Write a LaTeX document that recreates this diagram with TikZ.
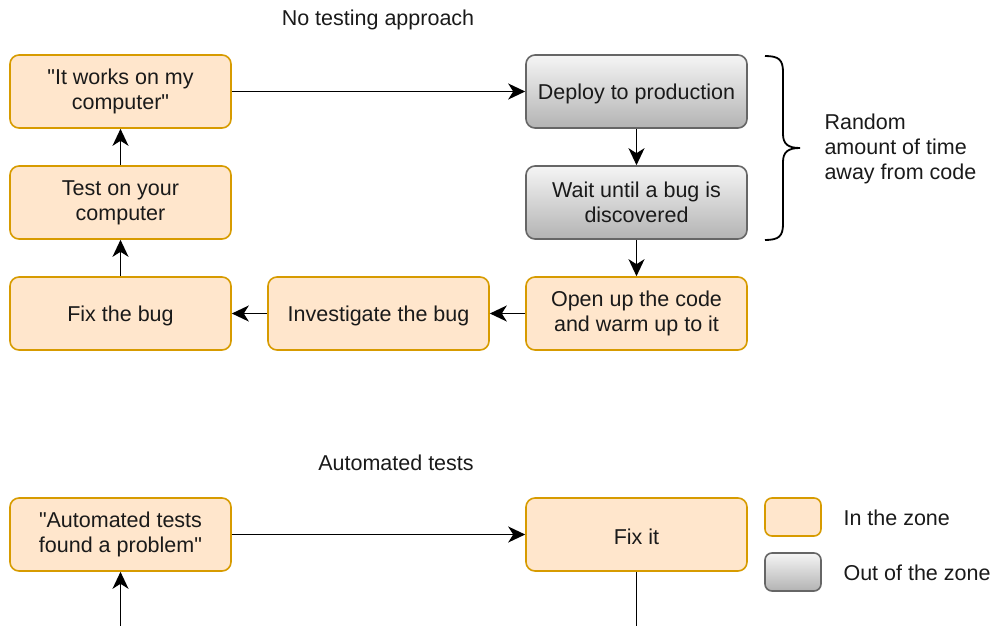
\documentclass[tikz,border=0pt]{standalone}
\usepackage{fontspec}
\setmainfont{Liberation Sans}[Ligatures=TeXOff]
\usetikzlibrary{arrows.meta}
\definecolor{zonefill}{HTML}{FFE6CC}
\definecolor{zoneline}{HTML}{D79B00}
\definecolor{outline}{HTML}{666666}
\definecolor{outtop}{HTML}{F5F5F5}
\definecolor{outbot}{HTML}{B3B3B3}
\definecolor{ink}{HTML}{1A1A1A}
\begin{document}
\begin{tikzpicture}[x=1pt,y=-1pt,
  every node/.style={font=\fontsize{21.5}{25}\selectfont, text=ink},
  card/.style={rounded corners=9pt, line width=1.6pt, minimum width=221pt,
    minimum height=73pt, inner sep=0pt, align=center,
    execute at begin node={\rule{0pt}{21pt}}},
  inzone/.style={card, draw=zoneline, fill=zonefill},
  outzone/.style={card, draw=outline, top color=outtop, bottom color=outbot},
  swatch/.style={rounded corners=7pt, line width=1.6pt, minimum width=56pt,
    minimum height=38pt, inner sep=0pt},
  flow/.style={line width=1.8pt, -{Stealth[length=17pt,width=16pt,inset=5pt]}},
  plain/.style={line width=1.8pt}
]
\useasboundingbox (0,0) rectangle (1001,626);

% upper loop
\node (t1) at (378,20) {No testing approach};
\node[inzone] (works) at (120.5,91.5) {"It works on my\\computer"};
\node[outzone] (deploy) at (636.5,91.5) {Deploy to production};
\node[outzone] (wait) at (636.5,202.5) {Wait until a bug is\\discovered};
\node[inzone] (test) at (120.5,202.5) {Test on your\\computer};
\node[inzone] (fixbug) at (120.5,313.5) {Fix the bug};
\node[inzone] (invest) at (378.5,313.5) {Investigate the bug};
\node[inzone] (open) at (636.5,313.5) {Open up the code\\and warm up to it};

\draw[flow] (works) -- (deploy);
\draw[flow] (deploy) -- (wait);
\draw[flow] (wait) -- (open);
\draw[flow] (open) -- (invest);
\draw[flow] (invest) -- (fixbug);
\draw[flow] (fixbug) -- (test);
\draw[flow] (test) -- (works);

% brace for the time spent away
\draw[plain] (765,56) .. controls (779,56) and (783,60) .. (783,72)
  -- (783,134) .. controls (783,144) and (788,148) .. (800,148)
  .. controls (788,148) and (783,152) .. (783,162)
  -- (783,224) .. controls (783,236) and (779,240) .. (765,240);
\node[anchor=west, align=left] (away) at (821,149) {Random\\amount of time\\away from code};

% lower loop
\node (t2) at (396,463) {Automated tests};
\node[inzone] (auto) at (120.5,534.5) {"Automated tests\\found a problem"};
\node[inzone] (fixit) at (636.5,534.5) {Fix it};
\coordinate (inlet) at (120.5,640);
\coordinate (outlet) at (636.5,640);
\draw[flow] (auto) -- (fixit);
\draw[flow] (inlet) -- (auto);
\draw[plain] (fixit) -- (outlet);

% legend
\node[swatch, draw=zoneline, fill=zonefill] (legin) at (793,517) {};
\node[swatch, draw=outline, top color=outtop, bottom color=outbot] (legout) at (793,572) {};
\node[anchor=west] (legintext) at (840,518) {In the zone};
\node[anchor=west] (legouttext) at (840,573) {Out of the zone};
\end{tikzpicture}
\end{document}
